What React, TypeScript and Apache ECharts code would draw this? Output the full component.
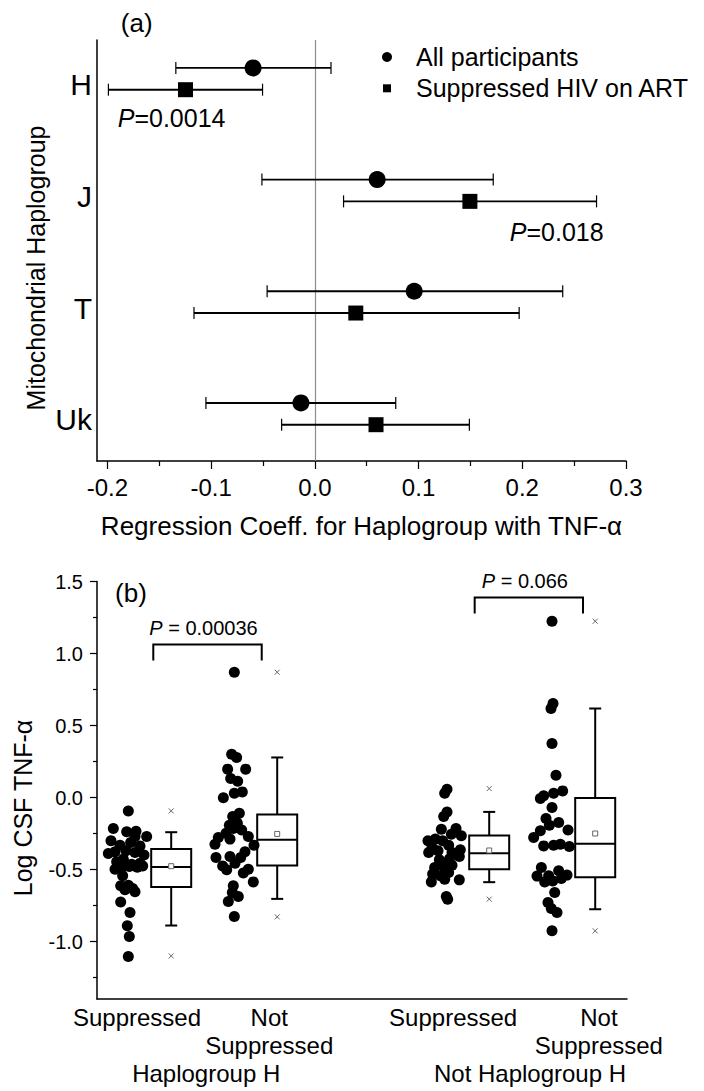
import React, { useEffect, useRef } from 'react';
import * as echarts from 'echarts';

const FONT = 'Arial, "Liberation Sans", Helvetica, sans-serif';

// ---------- Panel (a): regression coefficients ----------
const haplogroups = ['H', 'J', 'T', 'Uk'];
const allEstimate = [-0.0595, 0.0601, 0.0958, -0.0134];
const allLower = [-0.134, -0.051, -0.046, -0.105];
const allUpper = [0.0156, 0.172, 0.239, 0.078];
const supEstimate = [-0.1247, 0.1495, 0.0395, 0.059];
const supLower = [-0.199, 0.0277, -0.1165, -0.032];
const supUpper = [-0.0504, 0.2716, 0.197, 0.149];
const xTicksA = [-0.2, -0.1, 0, 0.1, 0.2, 0.3];
const xMinorA = [-0.15, -0.05, 0.05, 0.15, 0.25];
const pValuesA = ['0.0014', '0.018'];
const pAnchorA = [[-0.19, 0.448], [0.188, 1.465]];

// ---------- Panel (b): log CSF TNF-alpha ----------
const subLabels = ['Suppressed', 'Not\nSuppressed', 'Suppressed', 'Not\nSuppressed'];
const subLabelPos = [0.755, 3.25, 6.72, 9.47];
const groupLabels = ['Haplogroup H', 'Not Haplogroup H'];
const groupLabelPos = [2.06, 8.17];
const yTicksB = [-1, -0.5, 0, 0.5, 1, 1.5];
const yMinorB = [-1.25, -0.75, -0.25, 0.25, 0.75, 1.25];

const boxX = [1.4, 3.4, 7.4, 9.4];
const whiskerLow = [-0.889, -0.704, -0.588, -0.776];
const q1 = [-0.621, -0.472, -0.498, -0.553];
const median = [-0.482, -0.294, -0.387, -0.322];
const q3 = [-0.357, -0.118, -0.264, -0.003];
const whiskerHigh = [-0.241, 0.278, -0.1, 0.618];
const means = [-0.477, -0.253, -0.368, -0.25];
const mins = [-1.1, -0.829, -0.706, -0.926];
const maxs = [-0.093, 0.87, 0.062, 1.224];

const pValuesB = ['0.00036', '0.066'];
const bracketSpan = [[1.062, 3.108], [7.126, 9.17]];
const bracketTop = [1.0625, 1.389];

const dotsHSup = [
  [0.591, -0.093], [0.308, -0.215], [0.56, -0.238], [0.736, -0.234], [0.937, -0.271],
  [0.717, -0.271], [0.264, -0.301], [0.434, -0.331], [0.635, -0.313], [0.811, -0.336],
  [0.214, -0.389], [0.34, -0.377], [0.547, -0.37], [0.717, -0.382], [0.887, -0.4],
  [0.371, -0.447], [0.497, -0.428], [0.654, -0.463], [0.811, -0.456], [0.34, -0.498],
  [0.465, -0.486], [0.61, -0.479], [0.761, -0.484], [0.862, -0.475], [0.484, -0.544],
  [0.447, -0.613], [0.591, -0.609], [0.673, -0.632], [0.528, -0.641], [0.717, -0.655],
  [0.447, -0.725], [0.623, -0.799], [0.572, -0.891], [0.61, -0.965], [0.591, -1.104],
];
const dotsHNot = [
  [2.591, 0.87], [2.541, 0.301], [2.635, 0.278], [2.465, 0.197], [2.805, 0.197],
  [2.522, 0.132], [2.654, 0.113], [2.742, 0.039], [2.591, 0.03], [2.384, -0.002],
  [2.686, -0.109], [2.56, -0.132], [2.497, -0.192], [2.648, -0.178], [2.572, -0.215],
  [2.434, -0.248], [2.73, -0.225], [2.855, -0.271], [2.289, -0.278], [2.509, -0.289],
  [2.226, -0.324], [2.962, -0.331], [2.792, -0.377], [2.711, -0.417], [2.509, -0.41],
  [2.245, -0.417], [2.604, -0.456], [2.371, -0.475], [2.855, -0.498], [2.447, -0.502],
  [2.761, -0.525], [2.949, -0.586], [2.572, -0.613], [2.553, -0.66], [2.666, -0.688],
  [2.478, -0.722], [2.591, -0.826],
];
const dotsNotHSup = [
  [6.604, 0.058], [6.56, 0.03], [6.604, -0.1], [6.541, -0.132], [6.497, -0.22],
  [6.774, -0.215], [6.686, -0.255], [6.874, -0.266], [6.245, -0.301], [6.384, -0.289],
  [6.522, -0.3], [6.321, -0.347], [6.635, -0.331], [6.258, -0.382], [6.434, -0.37],
  [6.698, -0.382], [6.855, -0.363], [6.459, -0.433], [6.648, -0.428], [6.836, -0.41],
  [6.371, -0.486], [6.541, -0.479], [6.698, -0.47], [6.333, -0.532], [6.478, -0.544],
  [6.635, -0.521], [6.308, -0.586], [6.56, -0.567], [6.836, -0.572], [6.591, -0.688],
  [6.616, -0.706],
];
const dotsNotHNot = [
  [8.585, 1.224], [8.604, 0.653], [8.566, 0.618], [8.585, 0.375], [8.66, 0.155],
  [8.786, 0.046], [8.616, 0.03], [8.428, 0.012], [8.365, -0.007], [8.585, -0.069],
  [8.472, -0.146], [8.711, -0.174], [8.535, -0.192], [8.887, -0.225], [8.365, -0.231],
  [8.239, -0.278], [8.428, -0.336], [8.616, -0.331], [8.742, -0.324], [8.912, -0.34],
  [8.384, -0.486], [8.711, -0.509], [8.868, -0.539], [8.302, -0.546], [8.522, -0.544],
  [8.447, -0.586], [8.598, -0.579], [8.761, -0.563], [8.636, -0.66], [8.509, -0.729],
  [8.572, -0.771], [8.679, -0.799], [8.585, -0.926],
];

const nearestIndex = (arr: number[], v: number) => {
  let best = 0;
  arr.forEach((p, i) => { if (Math.abs(p - v) < Math.abs(arr[best] - v)) best = i; });
  return best;
};

const axisLineStyle = { color: '#000', width: 1.5 };
const tickStyle = { color: '#000', width: 1.2 };

const renderCI = (params: any, api: any) => {
  const y = api.value(2);
  const p1 = api.coord([api.value(0), y]);
  const p2 = api.coord([api.value(1), y]);
  const cap = 6;
  return {
    type: 'group',
    children: [
      { type: 'line', shape: { x1: p1[0], y1: p1[1], x2: p2[0], y2: p2[1] }, style: { stroke: '#000', lineWidth: 1.9 } },
      { type: 'line', shape: { x1: p1[0], y1: p1[1] - cap, x2: p1[0], y2: p1[1] + cap }, style: { stroke: '#000', lineWidth: 1.2 } },
      { type: 'line', shape: { x1: p2[0], y1: p2[1] - cap, x2: p2[0], y2: p2[1] + cap }, style: { stroke: '#000', lineWidth: 1.2 } },
    ],
  };
};

const pRich = (size: number) => ({
  i: { fontStyle: 'italic', fontSize: size, fontFamily: FONT, fill: '#000' },
  n: { fontSize: size, fontFamily: FONT, fill: '#000' },
});

const renderPA = (params: any, api: any) => {
  const p = api.coord([api.value(0), api.value(1)]);
  return {
    type: 'text',
    x: p[0],
    y: p[1],
    style: {
      text: `{i|P}{n|=${pValuesA[params.dataIndex]}}`,
      rich: pRich(25),
      align: 'left',
      verticalAlign: 'middle',
    },
  };
};

const renderBox = (params: any, api: any) => {
  const x = api.value(0);
  const c = (v: number) => api.coord([x, v]);
  const cx = c(api.value(3))[0];
  const yWL = c(api.value(1))[1];
  const yQ1 = c(api.value(2))[1];
  const yMed = c(api.value(3))[1];
  const yQ3 = c(api.value(4))[1];
  const yWH = c(api.value(5))[1];
  const hw = 20;
  const cap = 6;
  const s = { stroke: '#000', lineWidth: 2 };
  return {
    type: 'group',
    children: [
      { type: 'line', shape: { x1: cx, y1: yQ3, x2: cx, y2: yWH }, style: s },
      { type: 'line', shape: { x1: cx, y1: yQ1, x2: cx, y2: yWL }, style: s },
      { type: 'line', shape: { x1: cx - cap, y1: yWH, x2: cx + cap, y2: yWH }, style: s },
      { type: 'line', shape: { x1: cx - cap, y1: yWL, x2: cx + cap, y2: yWL }, style: s },
      { type: 'rect', shape: { x: cx - hw, y: yQ3, width: 2 * hw, height: yQ1 - yQ3 }, style: { fill: '#fff', stroke: '#000', lineWidth: 2 } },
      { type: 'line', shape: { x1: cx - hw, y1: yMed, x2: cx + hw, y2: yMed }, style: s },
    ],
  };
};

const renderBracket = (params: any, api: any) => {
  const a = api.coord([api.value(0), api.value(2)]);
  const b = api.coord([api.value(1), api.value(2)]);
  const drop = 16;
  return {
    type: 'group',
    children: [
      {
        type: 'polyline',
        shape: { points: [[a[0], a[1] + drop], [a[0], a[1]], [b[0], b[1]], [b[0], b[1] + drop]] },
        style: { stroke: '#000', lineWidth: 2, fill: 'none' },
      },
      {
        type: 'text',
        x: (a[0] + b[0]) / 2 - 4,
        y: a[1] - 16.5,
        style: {
          text: `{i|P}{n| = ${pValuesB[params.dataIndex]}}`,
          rich: pRich(20),
          align: 'center',
          verticalAlign: 'middle',
        },
      },
    ],
  };
};

const dotSeries = (name: string, data: number[][]) => ({
  name,
  type: 'scatter',
  xAxisIndex: 2,
  yAxisIndex: 1,
  symbol: 'circle',
  symbolSize: 11,
  itemStyle: { color: '#000', opacity: 1 },
  data,
});

function buildOption(): any {
  return {
    animation: false,
    backgroundColor: '#fff',
    textStyle: { fontFamily: FONT, color: '#000' },
    grid: [
      { left: 97, top: 40, width: 529, height: 421 },
      { left: 97, top: 581.5, width: 530, height: 417.6 },
    ],
    legend: [
      {
        data: [{ name: 'All participants', icon: 'circle' }],
        left: 382, top: 44, orient: 'vertical', padding: 0,
        itemWidth: 10, itemHeight: 10, selectedMode: false,
        itemStyle: { opacity: 1 },
        textStyle: { fontSize: 25, color: '#000', fontFamily: FONT, lineHeight: 26, padding: [0, 0, 0, 19] },
      },
      {
        data: [{ name: 'Suppressed HIV on ART', icon: 'rect' }],
        left: 383, top: 75.3, orient: 'vertical', padding: 0,
        itemWidth: 8, itemHeight: 8, selectedMode: false,
        itemStyle: { opacity: 1 },
        textStyle: { fontSize: 25, color: '#000', fontFamily: FONT, lineHeight: 26, padding: [0, 0, 0, 20] },
      },
    ],
    xAxis: [
      {
        type: 'value', gridIndex: 0, position: 'bottom', min: -0.21, max: 0.3,
        axisLine: { onZero: false, lineStyle: axisLineStyle },
        axisTick: { show: true, customValues: xTicksA, length: 8, lineStyle: tickStyle },
        axisLabel: {
          customValues: xTicksA, formatter: (v: number) => v.toFixed(1),
          fontSize: 24, color: '#000', margin: 14, fontFamily: FONT,
        },
        splitLine: { show: false },
        name: 'Regression Coeff. for Haplogroup with TNF-α',
        nameLocation: 'middle', nameGap: 52,
        nameTextStyle: { fontSize: 26, color: '#000', fontFamily: FONT },
      },
      {
        type: 'value', gridIndex: 0, position: 'bottom', min: -0.21, max: 0.3,
        axisLine: { show: false, onZero: false },
        axisTick: { show: true, customValues: xMinorA, length: 5, lineStyle: tickStyle },
        axisLabel: { show: false },
        splitLine: { show: false },
      },
      {
        type: 'value', gridIndex: 1, position: 'bottom', min: 0, max: 10,
        axisLine: { onZero: false, lineStyle: axisLineStyle },
        axisTick: { show: false },
        axisLabel: {
          customValues: subLabelPos,
          formatter: (v: number) => subLabels[nearestIndex(subLabelPos, v)],
          fontSize: 24, lineHeight: 28, color: '#000', margin: 4, fontFamily: FONT,
        },
        splitLine: { show: false },
      },
      {
        type: 'value', gridIndex: 1, position: 'bottom', offset: 58, min: 0, max: 10,
        axisLine: { show: false, onZero: false },
        axisTick: { show: false },
        axisLabel: {
          customValues: groupLabelPos,
          formatter: (v: number) => groupLabels[nearestIndex(groupLabelPos, v)],
          fontSize: 24, color: '#000', margin: 4, fontFamily: FONT,
        },
        splitLine: { show: false },
      },
    ],
    yAxis: [
      {
        type: 'value', gridIndex: 0, position: 'left', inverse: true, min: -0.25, max: 3.52,
        axisLine: { show: true, onZero: false, lineStyle: axisLineStyle },
        axisTick: { show: false },
        axisLabel: {
          customValues: [0.15, 1.15, 2.15, 3.15],
          formatter: (v: number) => haplogroups[Math.round(v - 0.15)],
          fontSize: 30, color: '#000', margin: 5, fontFamily: FONT,
        },
        splitLine: { show: false },
      },
      {
        type: 'value', gridIndex: 1, position: 'left', min: -1.4, max: 1.5,
        axisLine: { show: true, onZero: false, lineStyle: axisLineStyle },
        axisTick: { show: true, customValues: yTicksB, length: 7, lineStyle: tickStyle },
        axisLabel: {
          customValues: yTicksB, formatter: (v: number) => v.toFixed(1),
          fontSize: 20, color: '#000', margin: 14, fontFamily: FONT,
        },
        splitLine: { show: false },
      },
      {
        type: 'value', gridIndex: 1, position: 'left', min: -1.4, max: 1.5,
        axisLine: { show: false, onZero: false },
        axisTick: { show: true, customValues: yMinorB, length: 4, lineStyle: tickStyle },
        axisLabel: { show: false },
        splitLine: { show: false },
      },
    ],
    graphic: [
      { type: 'text', x: 136.7, y: 23, style: { text: '(a)', fontSize: 26, fontFamily: FONT, fill: '#000', align: 'center', verticalAlign: 'middle' } },
      { type: 'text', x: 131, y: 593, style: { text: '(b)', fontSize: 26, fontFamily: FONT, fill: '#000', align: 'center', verticalAlign: 'middle' } },
      { type: 'text', x: 36, y: 268, rotation: Math.PI / 2, style: { text: 'Mitochondrial Haplogroup', fontSize: 25, fontFamily: FONT, fill: '#000', align: 'center', verticalAlign: 'middle' } },
      { type: 'text', x: 23, y: 808, rotation: Math.PI / 2, style: { text: 'Log CSF TNF-α', fontSize: 25, fontFamily: FONT, fill: '#000', align: 'center', verticalAlign: 'middle' } },
    ],
    series: [
      {
        name: 'CI all', type: 'custom', xAxisIndex: 0, yAxisIndex: 0,
        encode: { x: [0, 1], y: 2 },
        renderItem: renderCI,
        data: allLower.map((l, i) => [l, allUpper[i], i]),
      },
      {
        name: 'CI suppressed', type: 'custom', xAxisIndex: 0, yAxisIndex: 0,
        encode: { x: [0, 1], y: 2 },
        renderItem: renderCI,
        data: supLower.map((l, i) => [l, supUpper[i], i + 0.195]),
      },
      {
        name: 'All participants', type: 'scatter', xAxisIndex: 0, yAxisIndex: 0,
        symbol: 'circle', symbolSize: 17, itemStyle: { color: '#000', opacity: 1 },
        data: allEstimate.map((v, i) => [v, i]),
        markLine: {
          silent: true, symbol: ['none', 'none'], z: 1,
          label: { show: false },
          lineStyle: { color: '#8c8c8c', width: 1.2, type: 'solid' },
          data: [{ xAxis: 0 }],
        },
      },
      {
        name: 'Suppressed HIV on ART', type: 'scatter', xAxisIndex: 0, yAxisIndex: 0,
        symbol: 'rect', symbolSize: 15, itemStyle: { color: '#000', opacity: 1 },
        data: supEstimate.map((v, i) => [v, i + 0.195]),
      },
      {
        name: 'P labels a', type: 'custom', xAxisIndex: 0, yAxisIndex: 0,
        renderItem: renderPA,
        data: pAnchorA,
      },
      dotSeries('Haplogroup H, suppressed', dotsHSup),
      dotSeries('Haplogroup H, not suppressed', dotsHNot),
      dotSeries('Not haplogroup H, suppressed', dotsNotHSup),
      dotSeries('Not haplogroup H, not suppressed', dotsNotHNot),
      {
        name: 'Boxes', type: 'custom', xAxisIndex: 2, yAxisIndex: 1,
        encode: { x: 0, y: [1, 2, 3, 4, 5] },
        renderItem: renderBox,
        data: boxX.map((x, i) => [x, whiskerLow[i], q1[i], median[i], q3[i], whiskerHigh[i]]),
      },
      {
        name: 'Mean', type: 'scatter', xAxisIndex: 2, yAxisIndex: 1,
        symbol: 'rect', symbolSize: 5,
        itemStyle: { color: '#fff', borderColor: '#666', borderWidth: 1, opacity: 1 },
        data: boxX.map((x, i) => [x, means[i]]),
      },
      {
        name: 'Min/Max', type: 'scatter', xAxisIndex: 2, yAxisIndex: 1,
        symbol: 'path://M0,0L10,10M10,0L0,10', symbolSize: 5,
        itemStyle: { color: 'none', borderColor: '#666', borderWidth: 1, opacity: 1 },
        data: [...boxX.map((x, i) => [x, mins[i]]), ...boxX.map((x, i) => [x, maxs[i]])],
      },
      {
        name: 'Brackets', type: 'custom', xAxisIndex: 2, yAxisIndex: 1,
        encode: { x: [0, 1], y: 2 },
        renderItem: renderBracket,
        data: bracketSpan.map((s, i) => [s[0], s[1], bracketTop[i]]),
      },
    ],
  };
}

export default function App() {
  const ref = useRef<HTMLDivElement>(null);
  useEffect(() => {
    const chart = echarts.init(ref.current!, null, { renderer: 'svg' });
    chart.setOption(buildOption());
    return () => chart.dispose();
  }, []);
  return (
    <div
      ref={ref}
      style={{ position: 'fixed', left: 0, top: 0, width: 704, height: 1091, background: '#fff' }}
    />
  );
}
